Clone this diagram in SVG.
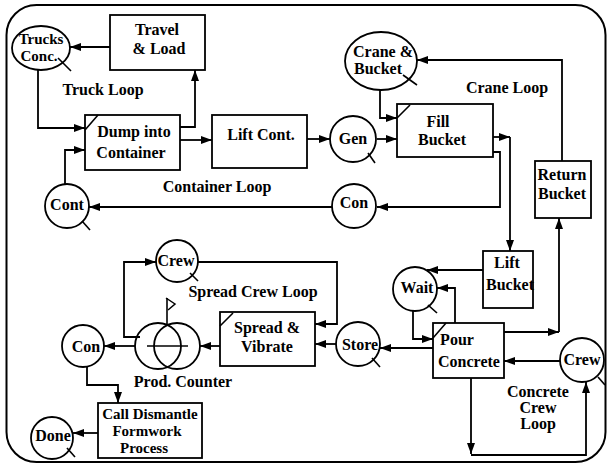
<svg xmlns="http://www.w3.org/2000/svg" width="607" height="464" viewBox="0 0 607 464">
<style>
.sh{fill:none;stroke:#000;stroke-width:1.8}
.c{fill:none;stroke:#000;stroke-width:1.8}
.t{font-family:"Liberation Serif","Times New Roman",serif;font-weight:bold;font-size:16px;fill:#000;text-anchor:middle}
.s{font-size:15px}
.tk{stroke:#000;stroke-width:1.6;fill:none}
</style>
<defs>
<marker id="a" markerUnits="userSpaceOnUse" markerWidth="11" markerHeight="8" refX="11" refY="4" orient="auto">
<path d="M0,0 L11,4 L0,8 z" fill="#000"/>
</marker>
</defs>
<rect x="6.5" y="5" width="599" height="457" rx="30" ry="30" fill="#fff" stroke="#000" stroke-width="2"/>

<g id="connectors">
<path class="c" d="M110,47 L70,47" marker-end="url(#a)"/>
<path class="c" d="M38,70 L38,128 L85,128" marker-end="url(#a)"/>
<path class="c" d="M65,185 L65,150 L85,150" marker-end="url(#a)"/>
<path class="c" d="M180,127 L195,127 L195,70" marker-end="url(#a)"/>
<path class="c" d="M180,140 L212,140" marker-end="url(#a)"/>
<path class="c" d="M307,139 L330,139" marker-end="url(#a)"/>
<path class="c" d="M377,139 L397,139" marker-end="url(#a)"/>
<path class="c" d="M380,89 L380,118 L397,118" marker-end="url(#a)"/>
<path class="c" d="M493,137 L510,137" marker-end="url(#a)"/>
<path class="c" d="M510,137 L510,251" marker-end="url(#a)"/>
<path class="c" d="M493,152 L500,152 L500,207 L377,207" marker-end="url(#a)"/>
<path class="c" d="M332,207 L89,207" marker-end="url(#a)"/>
<path class="c" d="M562,161 L562,60 L417,60" marker-end="url(#a)"/>
<path class="c" d="M483,270 L427,270" marker-end="url(#a)"/>
<path class="c" d="M455,323 L455,288 L437,288" marker-end="url(#a)"/>
<path class="c" d="M413,311 L413,339 L433,339" marker-end="url(#a)"/>
<path class="c" d="M433,348 L380,348" marker-end="url(#a)"/>
<path class="c" d="M504,332 L559,332" marker-end="url(#a)"/>
<path class="c" d="M559,332 L559,218" marker-end="url(#a)"/>
<path class="c" d="M560,361 L504,361" marker-end="url(#a)"/>
<path class="c" d="M471,378 L471,454" marker-end="url(#a)"/>
<path class="c" d="M471,455 L586,455 L586,382" marker-end="url(#a)"/>
<path class="c" d="M198,262 L337,262 L337,324 L315,324" marker-end="url(#a)"/>
<path class="c" d="M336,344 L315,344" marker-end="url(#a)"/>
<path class="c" d="M220,346 L200,346" marker-end="url(#a)"/>
<path class="c" d="M135,346 L104,346" marker-end="url(#a)"/>
<path class="c" d="M140,337 L124,337 L124,262 L156,262" marker-end="url(#a)"/>
<path class="c" d="M87,367 L87,385 L118,385 L118,403" marker-end="url(#a)"/>
<path class="c" d="M98,433 L73,433" marker-end="url(#a)"/>
</g>

<g id="trucks-conc">
<ellipse class="sh" cx="41" cy="48" rx="29" ry="22" fill="#fff"/>
<line class="tk" x1="58" y1="58" x2="71" y2="71"/>
<text class="t s" x="41" y="44">Trucks</text>
<text class="t s" x="39" y="61">Conc.</text>
</g>
<g id="travel-load">
<rect class="sh" x="110" y="15" width="95" height="55"/>
<text class="t" x="157" y="35">Travel</text>
<text class="t" x="159" y="54">&amp; Load</text>
</g>
<text class="t" x="103" y="95">Truck Loop</text>
<g id="dump">
<rect class="sh" x="85" y="115" width="95" height="55"/>
<line class="tk" x1="85" y1="130" x2="98" y2="115"/>
<text class="t" x="134" y="137">Dump into</text>
<text class="t" x="131" y="158">Container</text>
</g>
<g id="lift-cont">
<rect class="sh" x="212" y="115" width="95" height="53"/>
<text class="t" x="261" y="140">Lift Cont.</text>
</g>
<text class="t" x="217" y="192">Container Loop</text>
<g id="gen">
<circle class="sh" cx="353" cy="139" r="23"/>
<line class="tk" x1="368" y1="153" x2="375" y2="163"/>
<text class="t" x="353" y="144">Gen</text>
</g>
<g id="crane-bucket">
<ellipse class="sh" cx="381" cy="61" rx="36" ry="29"/>
<line class="tk" x1="403" y1="75" x2="417" y2="85"/>
<text class="t" x="383" y="57">Crane &amp;</text>
<text class="t" x="378" y="74">Bucket</text>
</g>
<text class="t" x="507" y="93">Crane Loop</text>
<g id="fill-bucket">
<rect class="sh" x="397" y="104" width="96" height="53"/>
<line class="tk" x1="397" y1="118" x2="410" y2="105"/>
<text class="t" x="438" y="127">Fill</text>
<text class="t" x="442" y="145">Bucket</text>
</g>
<g id="return-bucket">
<rect class="sh" x="535" y="161" width="56" height="57"/>
<text class="t" x="562" y="180">Return</text>
<text class="t" x="562" y="199">Bucket</text>
</g>
<g id="con-mid">
<circle class="sh" cx="354" cy="206" r="22"/>
<text class="t" x="354" y="208">Con</text>
</g>
<g id="cont">
<circle class="sh" cx="67" cy="206" r="22"/>
<line class="tk" x1="82" y1="221" x2="90" y2="230"/>
<text class="t" x="67" y="210">Cont</text>
</g>
<g id="lift-bucket">
<rect class="sh" x="483" y="251" width="50" height="57"/>
<text class="t" x="507" y="268">Lift</text>
<text class="t" x="510" y="290">Bucket</text>
</g>
<g id="wait">
<circle class="sh" cx="415" cy="289" r="22"/>
<line class="tk" x1="428" y1="305" x2="437" y2="313"/>
<text class="t" x="417" y="293">Wait</text>
</g>
<g id="pour">
<rect class="sh" x="433" y="323" width="71" height="55"/>
<line class="tk" x1="433" y1="338" x2="446" y2="323"/>
<text class="t" x="457" y="345">Pour</text>
<text class="t" x="469" y="367">Concrete</text>
</g>
<g id="store">
<circle class="sh" cx="358" cy="344" r="22"/>
<line class="tk" x1="372" y1="358" x2="380" y2="367"/>
<text class="t" x="360" y="350">Store</text>
</g>
<g id="crew-right">
<circle class="sh" cx="582" cy="360" r="22"/>
<line class="tk" x1="598" y1="377" x2="605" y2="385"/>
<text class="t" x="582" y="365">Crew</text>
</g>
<text class="t" x="538" y="397">Concrete</text>
<text class="t" x="538" y="413">Crew</text>
<text class="t" x="538" y="429">Loop</text>
<g id="crew-left">
<circle class="sh" cx="177" cy="261" r="21"/>
<line class="tk" x1="190" y1="273" x2="198" y2="281"/>
<text class="t" x="176" y="266">Crew</text>
</g>
<text class="t" x="253" y="297">Spread Crew Loop</text>
<g id="spread">
<rect class="sh" x="220" y="312" width="95" height="54"/>
<line class="tk" x1="220" y1="326" x2="233" y2="313"/>
<text class="t" x="267" y="333">Spread &amp;</text>
<text class="t" x="267" y="352">Vibrate</text>
</g>
<g id="prod-counter">
<circle class="sh" cx="158" cy="346" r="23"/>
<circle class="sh" cx="177" cy="346" r="23"/>
<line class="tk" x1="147" y1="346" x2="188" y2="346"/>
<line class="tk" x1="167" y1="298" x2="167" y2="326"/>
<path d="M166,298 L175,304 L168,310" fill="none" stroke="#000" stroke-width="1.5"/>
<text class="t" x="183" y="387">Prod. Counter</text>
</g>
<g id="con-left">
<circle class="sh" cx="83" cy="346" r="21"/>
<text class="t" x="86" y="352">Con</text>
</g>
<g id="call-dismantle">
<rect class="sh" x="98" y="403" width="104" height="55"/>
<text class="t s" x="150" y="419">Call Dismantle</text>
<text class="t s" x="147" y="436">Formwork</text>
<text class="t s" x="144" y="453">Process</text>
</g>
<g id="done">
<circle class="sh" cx="52" cy="438" r="21"/>
<line class="tk" x1="67" y1="448" x2="75" y2="457"/>
<text class="t" x="53" y="441">Done</text>
</g>
</svg>
